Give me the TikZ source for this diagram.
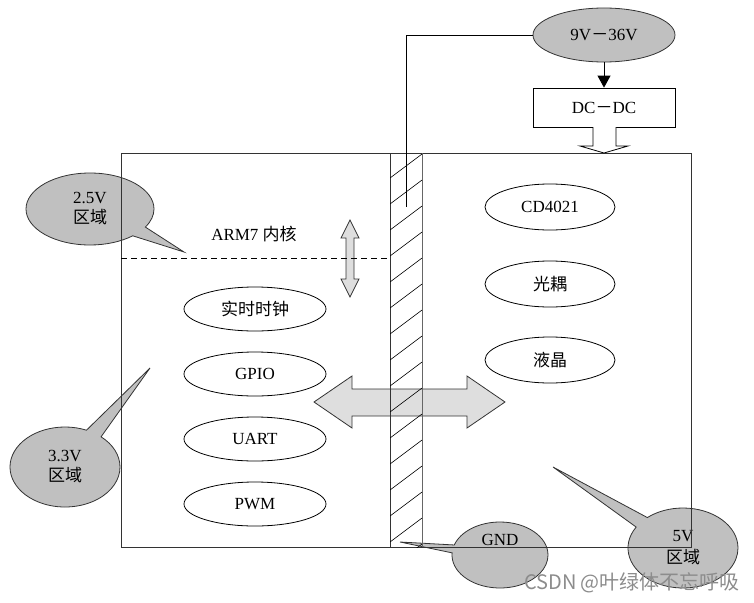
\documentclass[tikz,border=0pt]{standalone}
\usepackage{fontspec}
\setmainfont{Liberation Serif}
\newfontfamily\cjk{Noto Sans CJK SC}
\usetikzlibrary{shapes.geometric,shapes.callouts,arrows.meta}
\definecolor{bubblegray}{RGB}{192,192,192}
\definecolor{arrowgray}{RGB}{222,222,222}
\tikzset{
  chip/.style={ellipse,draw,minimum width=142pt,minimum height=44pt,inner sep=0pt},
  part/.style={ellipse,draw,minimum width=130pt,minimum height=46pt,inner sep=0pt},
  bubble/.style={ellipse callout,draw=black!80,fill=bubblegray,align=center,inner sep=0pt,callout pointer arc=18},
  wall/.style={draw=black!80,line width=0.9pt},
}

\begin{document}
\begin{tikzpicture}[x=1pt,y=-1pt,font=\fontsize{17}{20}\selectfont,line width=0.8pt]
\useasboundingbox (0,0) rectangle (754,602);
%Callouts
\node[bubble,minimum width=128pt,minimum height=72pt,callout absolute pointer={(184,252)}] (v25) at (90,209) {2.5V\\{\cjk 区域}};
\node[bubble,minimum width=110pt,minimum height=80pt,callout absolute pointer={(150,368)}] (v33) at (65,467) {3.3V\\{\cjk 区域}};
\node[bubble,minimum width=96pt,minimum height=66pt,callout absolute pointer={(400,542)},callout pointer arc=14] (gnd) at (500,555) {GND\\[10pt]\phantom{X}};
\node[bubble,minimum width=110pt,minimum height=80pt,callout absolute pointer={(553,467)}] (v5) at (683,548) {5V\\[2pt]{\cjk 区域}};
%Bus arrows
\filldraw[fill=arrowgray,draw=black!80] (314,402) -- (352,376) -- (352,389) -- (467,389) -- (467,376) -- (505,402)
  -- (467,428) -- (467,416) -- (352,416) -- (352,428) -- cycle;
\filldraw[fill=arrowgray,draw=black!80] (350,220) -- (359,238) -- (354,238) -- (354,279) -- (359,279) -- (350,297)
  -- (341,279) -- (346,279) -- (346,238) -- (341,238) -- cycle;
%Zones
\draw[wall] (121,153) rectangle (691,547);
\draw[wall] (390,153) -- (390,547);
\draw[wall,black!60] (422,153) -- (422,547);
\begin{scope}
  \clip (390,153) rectangle (422,547);
  \foreach \k in {-1,...,15}
    \draw[line width=0.6pt] (390,178+26*\k) -- (422,154+26*\k);
\end{scope}
\draw[line width=1pt,dash pattern=on 6pt off 4pt] (121,258) -- (390,258);
\node (arm) at (254,234) {ARM7 {\cjk 内核}};
%Supply
\node[ellipse,draw=black!80,fill=bubblegray,minimum width=142pt,minimum height=54pt,inner sep=0pt] (vin) at (604,35) {9V{\cjk －}36V};
\node[draw,minimum width=142pt,minimum height=39pt,inner sep=0pt] (dcdc) at (604,107.5) {DC{\cjk －}DC};
\coordinate (feed) at (406,207);
\draw (vin.west) -| (feed);
\draw[-{Triangle[length=12pt,width=13pt]}] (vin) -- (dcdc);
\filldraw[fill=white] (593,127) -- (593,146) -- (580,146) -- (604,153) -- (628,146) -- (616,146) -- (616,127);
%Peripherals
\node[chip] (rtc)  at (255,309) {\cjk 实时时钟};
\node[chip] (gpio) at (255,374) {GPIO};
\node[chip] (uart) at (255,439) {UART};
\node[chip] (pwm)  at (255,504) {PWM};
\node[part] (cd)   at (550,207) {CD4021};
\node[part] (opto) at (550,284) {\cjk 光耦};
\node[part] (lcd)  at (550,360) {\cjk 液晶};
\node[text=black!45,font=\cjk\fontsize{20}{24}\selectfont] (mark) at (632,583) {CSDN @叶绿体不忘呼吸};
\end{tikzpicture}
\end{document}
